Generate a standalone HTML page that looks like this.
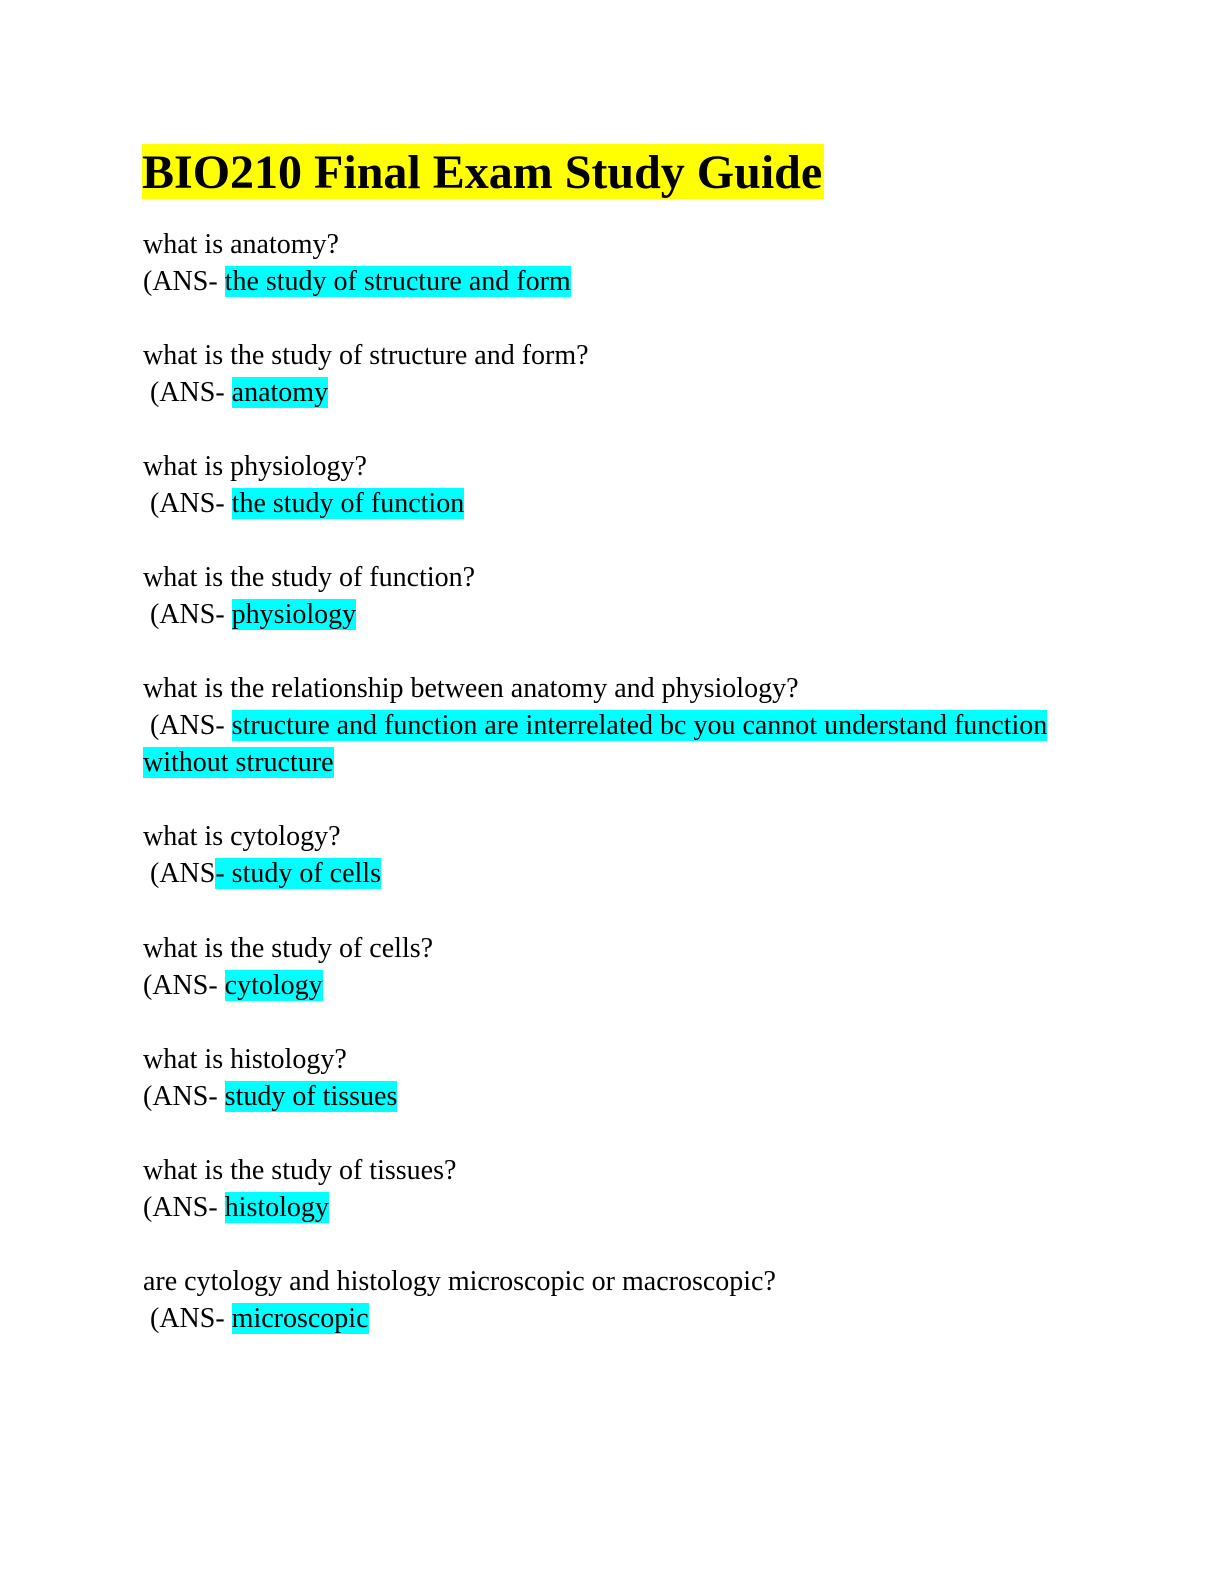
<!DOCTYPE html>
<html><head><meta charset="utf-8"><style>
body{margin:0;background:#fff;width:1224px;height:1584px;position:relative;font-family:"Liberation Serif",serif;color:#000}
.l{position:absolute;left:143px;font-size:28px;line-height:32px;height:32px;white-space:pre}
.h{background:#00ffff}
.t{position:absolute;left:142px;top:144px;height:55px;line-height:58px;font-size:48px;font-weight:bold;background:#ffff00;white-space:pre;padding-right:2px}
</style></head><body>
<div class="t">BIO210 Final Exam Study Guide</div>
<div class="l" style="top:229px">what is anatomy?</div>
<div class="l" style="top:266px">(ANS- <span class="h">the study of structure and form</span></div>
<div class="l" style="top:340px">what is the study of structure and form?</div>
<div class="l" style="top:377px"> (ANS- <span class="h">anatomy</span></div>
<div class="l" style="top:451px">what is physiology?</div>
<div class="l" style="top:488px"> (ANS- <span class="h">the study of function</span></div>
<div class="l" style="top:562px">what is the study of function?</div>
<div class="l" style="top:599px"> (ANS- <span class="h">physiology</span></div>
<div class="l" style="top:673px">what is the relationship between anatomy and physiology?</div>
<div class="l" style="top:710px"> (ANS- <span class="h">structure and function are interrelated bc you cannot understand function</span></div>
<div class="l" style="top:747px"><span class="h">without structure</span></div>
<div class="l" style="top:821px">what is cytology?</div>
<div class="l" style="top:858px"> (ANS<span class="h">- study of cells</span></div>
<div class="l" style="top:933px">what is the study of cells?</div>
<div class="l" style="top:970px">(ANS- <span class="h">cytology</span></div>
<div class="l" style="top:1044px">what is histology?</div>
<div class="l" style="top:1081px">(ANS- <span class="h">study of tissues</span></div>
<div class="l" style="top:1155px">what is the study of tissues?</div>
<div class="l" style="top:1192px">(ANS- <span class="h">histology</span></div>
<div class="l" style="top:1266px">are cytology and histology microscopic or macroscopic?</div>
<div class="l" style="top:1303px"> (ANS- <span class="h">microscopic</span></div>
</body></html>
